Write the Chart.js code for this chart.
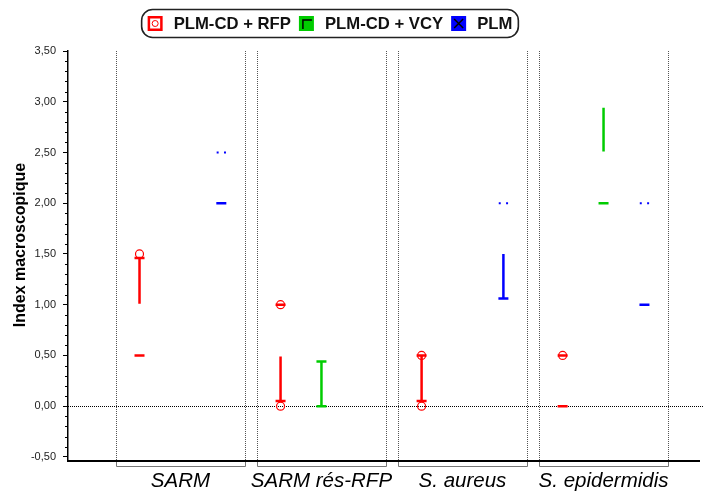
<!DOCTYPE html>
<html>
<head>
<meta charset="utf-8">
<script src="https://cdn.jsdelivr.net/npm/chart.js@4"></script>
<style>
  html, body { margin: 0; padding: 0; background: #fff; }
  #wrap { width: 703px; height: 496px; }
</style>
</head>
<body>
<div id="wrap"><canvas id="boxChart" width="703" height="496"></canvas></div>
<script>
// Catégories et séries
const categories = ['SARM', 'SARM rés-RFP', 'S. aureus', 'S. epidermidis'];
const seriesNames = ['PLM-CD + RFP', 'PLM-CD + VCY', 'PLM'];
const yTickValues = [-0.5, 0, 0.5, 1, 1.5, 2, 2.5, 3, 3.5];

// PLM-CD + RFP
const rfpWhiskerLow = [1.01, 0.05, 0.05, null];
const rfpWhiskerHigh = [1.46, 0.49, 0.50, null];
const rfpTicks = [[1.46, 0.50], [1.00, 0.05], [0.50, 0.05], [0.50, 0.00]];
const rfpOutliers = [[1.50], [1.00, 0.00], [0.50, 0.00], [0.50]];
const rfpDots = [null, null, null, null];

// PLM-CD + VCY
const vcyWhiskerLow = [null, 0.00, null, 2.51];
const vcyWhiskerHigh = [null, 0.44, null, 2.94];
const vcyTicks = [[], [0.00, 0.44], [], [2.00]];
const vcyOutliers = [[], [], [], []];
const vcyDots = [null, null, null, null];

// PLM
const plmWhiskerLow = [null, null, 1.06, null];
const plmWhiskerHigh = [null, null, 1.50, null];
const plmTicks = [[2.00], [], [1.06], [1.00]];
const plmOutliers = [[], [], [], []];
const plmDots = [2.50, null, 2.00, 2.00];

// Style
const colors = ['#ff0000', '#00cc00', '#0000ff'];
const offsets = [-0.29, 0, 0.29];
const panelHalf = 0.46;
const FONT = "'Liberation Sans', Arial, sans-serif";
Chart.defaults.font.family = FONT;

const series = [
    { low: rfpWhiskerLow, high: rfpWhiskerHigh, ticks: rfpTicks, outliers: rfpOutliers, dots: rfpDots },
    { low: vcyWhiskerLow, high: vcyWhiskerHigh, ticks: vcyTicks, outliers: vcyOutliers, dots: vcyDots },
    { low: plmWhiskerLow, high: plmWhiskerHigh, ticks: plmTicks, outliers: plmOutliers, dots: plmDots },
];

const datasets = [];
series.forEach((s, i) => {
    const pos = (c) => c + 1 + offsets[i];
    // moustaches
    const whisker = [];
    categories.forEach((cat, c) => {
        if (s.low[c] === null) return;
        whisker.push({ x: pos(c), y: s.low[c] }, { x: pos(c), y: s.high[c] }, { x: pos(c), y: null });
    });
    datasets.push({
        type: 'line', label: seriesNames[i] + ' whisker', data: whisker,
        borderColor: colors[i], borderWidth: 2.5, pointRadius: 0, spanGaps: false,
    });
    // traits horizontaux (médianes, extrémités)
    const ticks = [];
    s.ticks.forEach((vals, c) => vals.forEach((v) => ticks.push({ x: pos(c), y: v })));
    datasets.push({
        type: 'scatter', label: seriesNames[i] + ' ticks', data: ticks,
        pointStyle: 'line', pointRadius: 5, borderColor: colors[i], borderWidth: 2.5,
    });
    // valeurs atypiques
    const outl = [];
    s.outliers.forEach((vals, c) => vals.forEach((v) => outl.push({ x: pos(c), y: v })));
    datasets.push({
        type: 'scatter', label: seriesNames[i] + ' outliers', data: outl,
        pointStyle: 'circle', pointRadius: 4, borderColor: colors[i], borderWidth: 1.2,
        backgroundColor: 'rgba(0,0,0,0)',
    });
    // pointillés
    const dots = [];
    s.dots.forEach((v, c) => {
        if (v === null) return;
        dots.push({ x: pos(c) - 0.026, y: v }, { x: pos(c) + 0.026, y: v });
    });
    datasets.push({
        type: 'scatter', label: seriesNames[i] + ' dots', data: dots,
        pointStyle: 'rect', pointRadius: 1.4, borderWidth: 0, backgroundColor: colors[i],
    });
});

// Décor : panneaux, ligne zéro, petites graduations, légende
const decor = {
    id: 'decor',
    beforeDatasetsDraw(chart) {
        const { ctx, chartArea: a, scales: { x, y } } = chart;
        ctx.save();
        ctx.lineWidth = 1;
        ctx.setLineDash([1, 1]);
        ctx.strokeStyle = '#555';
        categories.forEach((cat, c) => {
            [c + 1 - panelHalf, c + 1 + panelHalf].forEach((v) => {
                const px = Math.round(x.getPixelForValue(v)) + 0.5;
                ctx.beginPath();
                ctx.moveTo(px, a.top);
                ctx.lineTo(px, a.bottom);
                ctx.stroke();
            });
        });
        ctx.strokeStyle = '#000';
        const y0 = Math.round(y.getPixelForValue(0)) + 0.5;
        ctx.beginPath();
        ctx.moveTo(a.left, y0);
        ctx.lineTo(chart.width, y0);
        ctx.stroke();
        ctx.restore();
    },
    afterDraw(chart) {
        const { ctx, chartArea: a, scales: { x, y } } = chart;
        ctx.save();
        // prolongement de l'axe X
        ctx.strokeStyle = '#000';
        ctx.lineWidth = 2;
        ctx.beginPath();
        ctx.moveTo(a.right - 2, a.bottom);
        ctx.lineTo(700, a.bottom);
        ctx.stroke();
        // petites graduations
        ctx.lineWidth = 1;
        for (let k = -5; k <= 35; k++) {
            if (k % 5 === 0) continue;
            const py = Math.round(y.getPixelForValue(k / 10)) + 0.5;
            ctx.beginPath();
            ctx.moveTo(a.left - 3, py);
            ctx.lineTo(a.left, py);
            ctx.stroke();
        }
        // crochets sous l'axe
        ctx.strokeStyle = '#777';
        categories.forEach((cat, c) => {
            const l = Math.round(x.getPixelForValue(c + 1 - panelHalf)) + 0.5;
            const r = Math.round(x.getPixelForValue(c + 1 + panelHalf)) + 0.5;
            ctx.beginPath();
            ctx.moveTo(l, a.bottom + 1);
            ctx.lineTo(l, a.bottom + 5.5);
            ctx.lineTo(r, a.bottom + 5.5);
            ctx.lineTo(r, a.bottom + 1);
            ctx.stroke();
        });
        // titre de l'axe Y
        ctx.fillStyle = '#000';
        ctx.font = 'bold 16px ' + FONT;
        ctx.translate(21, 245);
        ctx.rotate(-Math.PI / 2);
        ctx.textAlign = 'center';
        ctx.textBaseline = 'middle';
        ctx.fillText('Index macroscopique', 0, 0);
        ctx.restore();

        // légende
        ctx.save();
        ctx.font = 'bold 16.7px ' + FONT;
        const sq = 15, gapIn = 11, gapOut = 8;
        const widths = seriesNames.map((n) => ctx.measureText(n).width);
        const total = widths.reduce((s, w) => s + w + sq + gapIn, 0) + gapOut * 2;
        let lx = 330 - total / 2;
        ctx.strokeStyle = '#222';
        ctx.lineWidth = 1.6;
        ctx.beginPath();
        ctx.roundRect(lx - 6, 9.5, total + 12, 28, 11);
        ctx.stroke();
        const ty = 16;
        seriesNames.forEach((n, i) => {
            if (i === 0) {
                ctx.fillStyle = '#fff';
                ctx.fillRect(lx, ty, sq, sq);
                ctx.strokeStyle = colors[0];
                ctx.lineWidth = 2.5;
                ctx.strokeRect(lx + 1.25, ty + 1.25, sq - 2.5, sq - 2.5);
                ctx.lineWidth = 1;
                ctx.beginPath();
                ctx.arc(lx + sq / 2, ty + sq / 2, 3, 0, Math.PI * 2);
                ctx.stroke();
            } else if (i === 1) {
                ctx.fillStyle = colors[1];
                ctx.fillRect(lx, ty, sq, sq);
                ctx.strokeStyle = '#000';
                ctx.lineWidth = 1.5;
                ctx.beginPath();
                ctx.moveTo(lx + 4, ty + sq - 2);
                ctx.lineTo(lx + 4, ty + 4);
                ctx.lineTo(lx + sq - 2, ty + 4);
                ctx.stroke();
            } else {
                ctx.fillStyle = colors[2];
                ctx.fillRect(lx, ty, sq, sq);
                ctx.strokeStyle = '#000';
                ctx.lineWidth = 1.5;
                ctx.beginPath();
                ctx.moveTo(lx + 3, ty + 3);
                ctx.lineTo(lx + sq - 3, ty + sq - 3);
                ctx.moveTo(lx + sq - 3, ty + 3);
                ctx.lineTo(lx + 3, ty + sq - 3);
                ctx.stroke();
            }
            lx += sq + gapIn;
            ctx.fillStyle = '#111';
            ctx.textBaseline = 'middle';
            ctx.fillText(n, lx, ty + sq / 2 + 1);
            lx += widths[i] + gapOut;
        });
        ctx.restore();
    },
};

const ctx = document.getElementById('boxChart').getContext('2d');
const boxChart = new Chart(ctx, {
    data: { datasets: datasets },
    options: {
        responsive: false,
        animation: false,
        events: [],
        layout: { padding: { top: 51, right: 3, left: 0, bottom: 0 } },
        plugins: { legend: { display: false }, tooltip: { enabled: false } },
        scales: {
            x: {
                type: 'linear',
                min: 0.203,
                max: 4.652,
                afterBuildTicks: (s) => { s.ticks = categories.map((c, i) => ({ value: i + 1 })); },
                afterFit: (s) => { s.height = 35; },
                ticks: {
                    callback: (v) => categories[v - 1],
                    font: { size: 20.5, style: 'italic' },
                    color: '#000',
                    padding: 0,
                    maxRotation: 0,
                    autoSkip: false,
                },
                grid: { display: false },
                border: { display: true, color: '#000', width: 2 },
            },
            y: {
                min: -0.54,
                max: 3.5,
                afterBuildTicks: (s) => { s.ticks = yTickValues.map((v) => ({ value: v })); },
                afterFit: (s) => { s.width = 68; },
                ticks: {
                    callback: (v) => v.toFixed(2).replace('.', ','),
                    font: { size: 11 },
                    color: '#222',
                    padding: 7,
                },
                grid: { drawOnChartArea: false, drawTicks: true, tickLength: 5, color: '#000', tickColor: '#000' },
                border: { display: true, color: '#000', width: 1.5 },
            },
        },
    },
    plugins: [decor],
});
</script>
</body>
</html>
